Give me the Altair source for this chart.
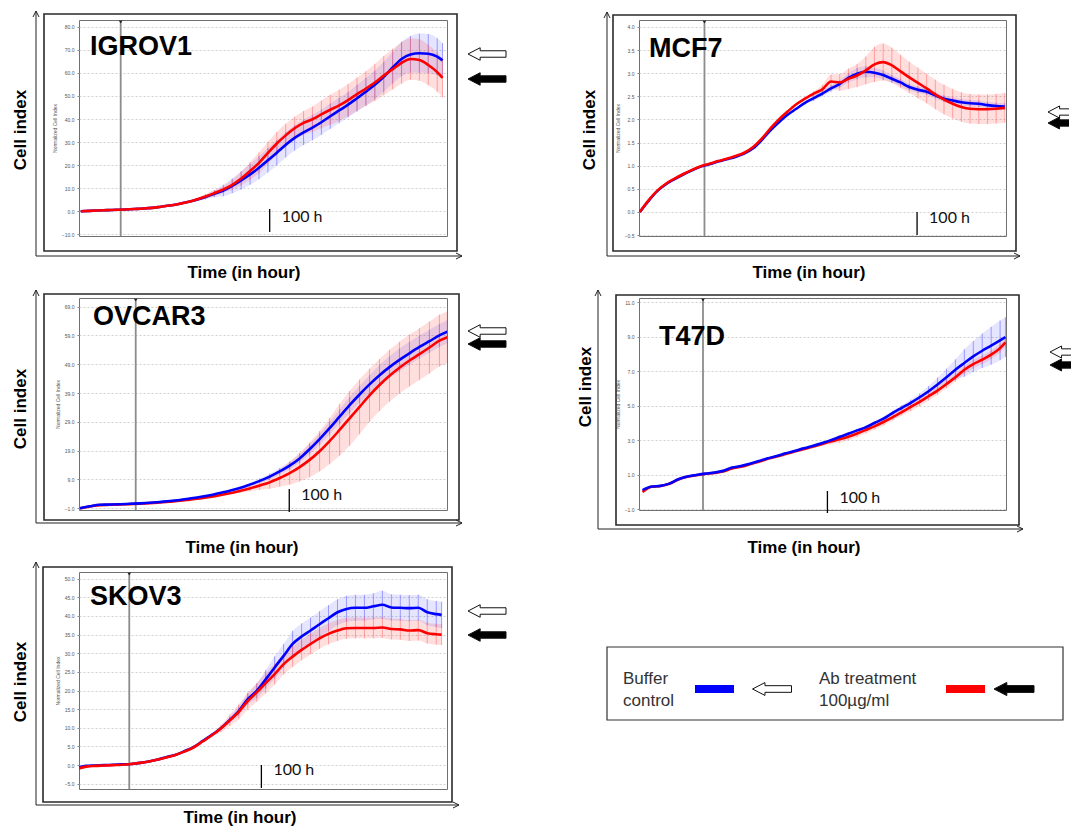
import altair as alt
import pandas as pd

FONT = "Liberation Sans"
BLUE = "#0000ff"
RED = "#ff0000"
BLUE_BAR = "#5a5aff"
RED_BAR = "#ff6a6a"

# ---------------- IGROV1 ----------------
IGROV1_HOURS = [0, 5, 10, 15, 20, 25, 30, 35, 40, 45, 50, 55, 60, 65, 70, 75, 80, 85, 90, 95, 100,
                105, 110, 115, 120, 125, 130, 135, 140, 145, 150, 155, 160, 165, 170, 175, 180, 185,
                190, 195, 200, 203]
IGROV1_BUFFER = [0.0, 0.2, 0.35, 0.5, 0.65, 0.8, 1.0, 1.2, 1.5, 2.0, 2.5, 3.2, 4.0, 5.0, 6.2, 7.6, 9.0,
                 11.0, 13.4, 16.0, 18.9, 22.1, 25.4, 28.8, 31.8, 34.2, 36.3, 38.6, 41.2, 43.7, 46.2,
                 49.0, 51.8, 54.8, 58.3, 62.3, 66.0, 68.0, 68.5, 68.3, 67.0, 65.4]
IGROV1_BUFFER_SD = [0.3, 0.3, 0.3, 0.3, 0.3, 0.3, 0.3, 0.3, 0.3, 0.3, 0.3, 0.3, 0.3, 0.6, 1.0, 1.5, 2.5,
                    3.2, 4.0, 4.5, 5.0, 5.3, 5.5, 5.5, 5.5, 5.5, 5.5, 5.5, 5.5, 5.5, 5.5, 5.8, 6.0, 6.2,
                    6.5, 7.0, 7.5, 8.0, 8.5, 8.5, 8.0, 7.5]
IGROV1_AB = [0.0, 0.2, 0.35, 0.5, 0.65, 0.8, 1.0, 1.2, 1.5, 2.0, 2.5, 3.2, 4.0, 5.1, 6.4, 7.9, 9.5, 11.5,
             14.2, 17.5, 21.0, 25.3, 29.4, 32.9, 36.0, 38.3, 39.9, 42.0, 44.0, 45.9, 48.2, 50.8, 53.2,
             55.8, 58.8, 61.6, 64.3, 66.0, 65.6, 63.4, 60.3, 57.8]
IGROV1_AB_SD = [0.3, 0.3, 0.3, 0.3, 0.3, 0.3, 0.3, 0.3, 0.3, 0.3, 0.3, 0.3, 0.3, 0.6, 1.0, 1.3, 1.5, 2.2,
                3.0, 3.8, 4.5, 4.8, 5.0, 5.0, 5.0, 5.2, 5.5, 6.0, 6.5, 6.8, 7.0, 7.2, 7.5, 8.0, 8.5, 8.8,
                9.0, 9.0, 9.0, 8.8, 8.5, 8.5]
IGROV1_X_TICKS = [0, 29, 58, 87, 116, 145, 174, 203]
IGROV1_Y_TICKS = [-10, 0, 10, 20, 30, 40, 50, 60, 70, 80]

# ---------------- MCF7 ----------------
MCF7_HOURS = [0, 3, 6, 9, 12, 15, 18, 21, 24, 27, 30, 33, 36, 39, 42, 45, 48, 51, 54, 57, 60, 63, 66,
              69, 72, 75, 78, 81, 84, 87, 90, 93, 96, 99, 102, 105, 108, 111, 114, 117, 120, 123, 126]
MCF7_BUFFER = [0.0, 0.24, 0.45, 0.60, 0.71, 0.81, 0.90, 0.98, 1.03, 1.09, 1.14, 1.19, 1.26, 1.37, 1.55,
               1.76, 1.94, 2.10, 2.23, 2.36, 2.46, 2.56, 2.67, 2.77, 2.90, 2.99, 3.03, 3.01, 2.96, 2.88,
               2.80, 2.70, 2.64, 2.60, 2.52, 2.45, 2.41, 2.37, 2.35, 2.34, 2.31, 2.29, 2.28]
MCF7_BUFFER_SD = [0.02, 0.02, 0.02, 0.02, 0.02, 0.02, 0.02, 0.02, 0.02, 0.02, 0.02, 0.02, 0.02, 0.02,
                  0.02, 0.02, 0.02, 0.02, 0.02, 0.02, 0.06, 0.06, 0.07, 0.08, 0.1, 0.12, 0.12, 0.1, 0.1,
                  0.08, 0.08, 0.07, 0.07, 0.07, 0.07, 0.07, 0.07, 0.07, 0.07, 0.07, 0.07, 0.07, 0.07]
MCF7_AB = [0.0, 0.25, 0.46, 0.61, 0.72, 0.82, 0.91, 0.99, 1.04, 1.10, 1.15, 1.21, 1.28, 1.40, 1.58, 1.80,
           2.00, 2.17, 2.33, 2.45, 2.56, 2.65, 2.82, 2.80, 2.88, 2.95, 3.06, 3.19, 3.24, 3.17, 3.04, 2.91,
           2.79, 2.67, 2.54, 2.43, 2.34, 2.27, 2.23, 2.22, 2.22, 2.23, 2.25]
MCF7_AB_SD = [0.02, 0.02, 0.02, 0.02, 0.02, 0.02, 0.02, 0.02, 0.02, 0.02, 0.02, 0.02, 0.02, 0.02, 0.02,
              0.02, 0.02, 0.02, 0.02, 0.02, 0.05, 0.1, 0.15, 0.18, 0.22, 0.25, 0.3, 0.38, 0.4, 0.38, 0.36,
              0.34, 0.33, 0.32, 0.32, 0.32, 0.32, 0.32, 0.32, 0.32, 0.32, 0.32, 0.32]
MCF7_X_TICKS = [0, 21, 42, 63, 84, 105, 126]
MCF7_Y_TICKS = [-0.5, 0, 0.5, 1, 1.5, 2, 2.5, 3, 3.5, 4]

# ---------------- OVCAR3 ----------------
OVCAR3_HOURS = [0, 5, 10, 15, 20, 25, 30, 35, 40, 45, 50, 55, 60, 65, 70, 75, 80, 85, 90, 95, 100, 105,
                110, 115, 120, 125, 130, 135, 140, 145, 150, 155, 160, 165, 170, 175, 180, 184]
OVCAR3_BUFFER = [-1.0, -0.3, 0.2, 0.3, 0.4, 0.55, 0.7, 0.9, 1.2, 1.5, 1.9, 2.4, 2.9, 3.5, 4.3, 5.1, 6.0,
                 7.2, 8.5, 10.0, 11.8, 13.8, 16.3, 19.5, 23.0, 26.8, 30.8, 34.8, 38.5, 42.0, 45.2, 48.0,
                 50.5, 52.8, 55.0, 57.0, 59.0, 60.3]
OVCAR3_BUFFER_SD = [0.3, 0.3, 0.3, 0.3, 0.3, 0.3, 0.3, 0.3, 0.3, 0.3, 0.3, 0.3, 0.3, 0.3, 0.3, 0.3, 0.4,
                    0.6, 0.8, 1.0, 1.2, 1.3, 1.5, 1.8, 2.0, 2.2, 2.5, 2.8, 3.0, 3.2, 3.5, 3.8, 4.0, 4.0,
                    4.0, 4.0, 4.0, 4.0]
OVCAR3_AB = [-1.0, -0.4, 0.1, 0.2, 0.3, 0.45, 0.6, 0.8, 1.0, 1.3, 1.6, 2.0, 2.4, 2.9, 3.5, 4.2, 5.0, 5.9,
             6.9, 8.0, 9.5, 11.2, 13.3, 15.8, 18.8, 22.3, 26.2, 30.2, 34.2, 38.2, 41.8, 45.0, 47.8, 50.3,
             52.5, 54.8, 57.2, 58.4]
OVCAR3_AB_SD = [0.3, 0.3, 0.3, 0.3, 0.3, 0.3, 0.3, 0.3, 0.3, 0.3, 0.3, 0.3, 0.3, 0.3, 0.3, 0.3, 0.6, 1.0,
                1.5, 2.2, 3.0, 4.0, 5.0, 6.0, 7.0, 8.0, 9.0, 9.5, 9.5, 9.2, 9.0, 9.0, 9.0, 9.0, 9.0, 9.0,
                9.0, 9.0]
OVCAR3_X_TICKS = [0, 23, 46, 69, 92, 115, 138, 161, 184]
OVCAR3_Y_TICKS = [-1, 9, 19, 29, 39, 49, 59, 69]

# ---------------- T47D ----------------
T47D_HOURS = [0, 5, 10, 15, 20, 25, 30, 35, 40, 45, 50, 55, 60, 65, 70, 75, 80, 85, 90, 95, 100, 105,
              110, 115, 120, 125, 130, 135, 140, 145, 150, 155, 160, 165, 170, 175, 180, 185, 190, 195,
              200, 203]
T47D_BUFFER = [0.1, 0.31, 0.35, 0.48, 0.73, 0.89, 0.98, 1.06, 1.12, 1.22, 1.41, 1.50, 1.64, 1.79, 1.95,
               2.08, 2.24, 2.37, 2.53, 2.66, 2.82, 2.99, 3.18, 3.37, 3.57, 3.76, 4.01, 4.26, 4.59, 4.88,
               5.17, 5.49, 5.84, 6.23, 6.65, 7.09, 7.48, 7.86, 8.19, 8.48, 8.79, 8.98]
T47D_BUFFER_SD = [0.03, 0.03, 0.03, 0.03, 0.03, 0.03, 0.03, 0.03, 0.03, 0.03, 0.03, 0.03, 0.03, 0.03,
                  0.03, 0.03, 0.03, 0.03, 0.03, 0.03, 0.03, 0.06, 0.08, 0.08, 0.08, 0.08, 0.1, 0.1, 0.12,
                  0.15, 0.18, 0.22, 0.3, 0.4, 0.5, 0.6, 0.8, 0.9, 1.0, 1.1, 1.15, 1.15]
T47D_AB = [0.0, 0.30, 0.34, 0.47, 0.72, 0.88, 0.97, 1.04, 1.10, 1.18, 1.36, 1.46, 1.60, 1.75, 1.92, 2.05,
           2.20, 2.34, 2.48, 2.62, 2.76, 2.92, 3.05, 3.20, 3.39, 3.60, 3.82, 4.07, 4.34, 4.63, 4.93, 5.22,
           5.55, 5.88, 6.26, 6.65, 7.09, 7.42, 7.67, 7.96, 8.34, 8.67]
T47D_AB_SD = [0.03, 0.03, 0.03, 0.03, 0.03, 0.03, 0.03, 0.03, 0.03, 0.03, 0.03, 0.03, 0.03, 0.03, 0.03,
              0.03, 0.03, 0.03, 0.03, 0.03, 0.1, 0.15, 0.2, 0.2, 0.2, 0.2, 0.2, 0.2, 0.2, 0.2, 0.25, 0.25,
              0.25, 0.25, 0.25, 0.25, 0.25, 0.25, 0.25, 0.25, 0.25, 0.25]
T47D_X_TICKS = [0, 29, 58, 87, 116, 145, 174, 203]
T47D_Y_TICKS = [-1, 1, 3, 5, 7, 9, 11]

# ---------------- SKOV3 ----------------
SKOV3_HOURS = [0, 5, 10, 15, 20, 25, 30, 35, 40, 45, 50, 55, 60, 65, 70, 75, 80, 85, 90, 95, 100, 105,
               110, 115, 120, 125, 130, 135, 140, 145, 150, 155, 160, 165, 170, 175, 180, 185, 190, 195,
               200, 203]
SKOV3_BUFFER = [-0.7, -0.2, -0.1, 0.0, 0.1, 0.2, 0.3, 0.6, 1.0, 1.5, 2.2, 2.8, 3.8, 4.9, 6.5, 8.1, 9.9,
                12.1, 14.5, 17.7, 19.9, 23.0, 26.2, 29.3, 32.5, 34.5, 36.1, 37.8, 39.4, 41.0, 41.9, 42.2,
                42.2, 42.6, 43.0, 42.3, 42.2, 42.1, 42.2, 41.0, 40.5, 40.3]
SKOV3_BUFFER_SD = [0.3, 0.3, 0.3, 0.3, 0.3, 0.3, 0.3, 0.3, 0.3, 0.3, 0.3, 0.3, 0.3, 0.3, 0.3, 0.3, 0.3,
                   0.8, 1.2, 1.5, 2.0, 2.5, 3.0, 3.2, 3.5, 3.5, 3.5, 3.5, 3.5, 3.5, 3.5, 3.5, 3.5, 3.5,
                   3.8, 3.5, 3.5, 3.5, 3.5, 3.5, 3.5, 3.5]
SKOV3_AB = [-1.0, -0.4, -0.2, -0.1, 0.0, 0.1, 0.3, 0.6, 1.0, 1.5, 2.1, 2.8, 3.7, 4.8, 6.4, 8.0, 9.8, 12.0,
            14.3, 17.2, 19.5, 22.0, 24.4, 27.1, 29.1, 30.9, 32.5, 34.0, 35.2, 36.1, 36.7, 36.8, 36.8,
            36.8, 36.9, 36.5, 36.4, 36.1, 36.2, 35.4, 35.1, 35.0]
SKOV3_AB_SD = [0.3, 0.3, 0.3, 0.3, 0.3, 0.3, 0.3, 0.3, 0.3, 0.3, 0.3, 0.3, 0.3, 0.3, 0.3, 0.3, 1.0, 1.5,
               2.0, 2.3, 2.5, 2.8, 2.8, 2.8, 2.8, 2.8, 2.8, 2.8, 2.8, 2.8, 2.8, 2.8, 2.8, 2.8, 2.8, 2.8,
               2.8, 2.8, 2.8, 2.8, 2.8, 2.8]
SKOV3_X_TICKS = [0, 29, 58, 87, 116, 145, 174, 203]
SKOV3_Y_TICKS = [-5, 0, 5, 10, 15, 20, 25, 30, 35, 40, 45, 50]

# hour at which the treatment (grey line) and the "100 h" annotation sit
TREATMENT_HOUR = {"IGROV1": 22.4, "MCF7": 22.3, "OVCAR3": 27.9, "T47D": 33.8, "SKOV3": 29.0}
MARK_HOUR = {"IGROV1": 106.0, "MCF7": 95.7, "OVCAR3": 104.8, "T47D": 103.4, "SKOV3": 102.6}

LEGEND_LABELS = ["Buffer\ncontrol", "Ab treatment\n100\u00b5g/ml"]

ARROW = "M -1 0 L -0.36 -0.33 L -0.36 -0.17 L 1 -0.17 L 1 0.17 L -0.36 0.17 L -0.36 0.33 Z"
# arrow whose tail runs off the page edge (open on the right, like the cropped original)
ARROW_CUT = "M 1 -0.3 L 0.1 -0.3 L 0.1 -0.57 L -1 0 L 0.1 0.57 L 0.1 0.3 L 1 0.3"
CHEV_UP = "M -1 1 L 0 -1 L 1 1"
CHEV_RIGHT = "M -1 -1 L 1 0 L -1 1"

ONE = pd.DataFrame({"k": [0]})

LEFT_W = 368
RIGHT_W = 367

PANELS = [
    dict(name="IGROV1", t=IGROV1_HOURS, buf=IGROV1_BUFFER, buf_sd=IGROV1_BUFFER_SD, ab=IGROV1_AB,
         ab_sd=IGROV1_AB_SD, xt=IGROV1_X_TICKS, yt=IGROV1_Y_TICKS, xdom=[-1, 205.5], ydom=[-10.7, 82.9],
         origin=(78, 18), size=(LEFT_W, 216), frame=(43, 12, 456, 249), lax=(35, 9, 254, 461),
         cell=(20, 128), time=(243, 271), title=(89, 53), mark=(207, 230, 220),
         arrows=(486, 52, 77), cut=False, red_top=True),
    dict(name="MCF7", t=MCF7_HOURS, buf=MCF7_BUFFER, buf_sd=MCF7_BUFFER_SD, ab=MCF7_AB,
         ab_sd=MCF7_AB_SD, xt=MCF7_X_TICKS, yt=MCF7_Y_TICKS, xdom=[-0.3, 126.4], ydom=[-0.52, 4.15],
         origin=(638, 18), size=(RIGHT_W, 216), frame=(612, 13, 1015, 249), lax=(606, 10, 254, 1019),
         cell=(589, 128), time=(808, 271), title=(648, 55), mark=(210, 233, 221),
         arrows=(1057.5, 110, 121), cut=True, red_top=True),
    dict(name="OVCAR3", t=OVCAR3_HOURS, buf=OVCAR3_BUFFER, buf_sd=OVCAR3_BUFFER_SD, ab=OVCAR3_AB,
         ab_sd=OVCAR3_AB_SD, xt=OVCAR3_X_TICKS, yt=OVCAR3_Y_TICKS, xdom=[-0.5, 183.8], ydom=[-1.6, 72],
         origin=(78, 296), size=(LEFT_W, 212), frame=(43, 292, 458, 518), lax=(35, 288, 521, 461),
         cell=(20, 407), time=(241, 546), title=(92, 323), mark=(487, 510, 498),
         arrows=(486, 329, 342), cut=False, red_top=False),
    dict(name="T47D", t=T47D_HOURS, buf=T47D_BUFFER, buf_sd=T47D_BUFFER_SD, ab=T47D_AB,
         ab_sd=T47D_AB_SD, xt=T47D_X_TICKS, yt=T47D_Y_TICKS, xdom=[-2.0, 203.3], ydom=[-1.05, 11.25],
         origin=(638, 296), size=(RIGHT_W, 212), frame=(615, 293, 1018, 523), lax=(597, 288, 527, 1022),
         cell=(585, 385), time=(803, 546), title=(658, 343), mark=(489, 511, 501),
         arrows=(1059.5, 350, 363), cut=True, red_top=False),
    dict(name="SKOV3", t=SKOV3_HOURS, buf=SKOV3_BUFFER, buf_sd=SKOV3_BUFFER_SD, ab=SKOV3_AB,
         ab_sd=SKOV3_AB_SD, xt=SKOV3_X_TICKS, yt=SKOV3_Y_TICKS, xdom=[1.0, 206.0], ydom=[-6.4, 51.8],
         origin=(78, 570), size=(LEFT_W, 217), frame=(42, 565, 451, 800), lax=(35, 560, 803, 458),
         cell=(20, 680), time=(239, 816), title=(89, 603), mark=(763, 786, 773),
         arrows=(486, 609, 633), cut=False, red_top=True),
]


def series_df(t, v, sd):
    return pd.DataFrame({"t": t, "v": v,
                         "lo": [a - b for a, b in zip(v, sd)],
                         "hi": [a + b for a, b in zip(v, sd)]})


def arrow_mark(x, y, fill, size=38, shape=ARROW):
    return alt.Chart(ONE).mark_point(shape=shape, size=size * size, filled=True, fill=fill,
                                      stroke="#111111", strokeWidth=1, opacity=1).encode(
        x=alt.value(x), y=alt.value(y))


def panel(p, anchor=False):
    ox, oy = p["origin"]
    W, H = p["size"]

    def X(v):
        return v - ox

    def Y(v):
        return v - oy

    xs = alt.Scale(domain=p["xdom"], nice=False, zero=False)
    ys = alt.Scale(domain=p["ydom"], nice=False, zero=False)
    xax = alt.Axis(values=p["xt"], format=".1f", title=None, labelFontSize=5, labelColor="#555555",
                   labelFont=FONT, grid=True, gridColor="#c4c4c4", gridDash=[2, 2], gridWidth=0.8,
                   domain=False, tickSize=2, tickColor="#888888", labelPadding=4, labelFlush=False,
                   labelOverlap=False)
    yax = alt.Axis(values=p["yt"], format=".1f", title="Normalized Cell Index", titleFontSize=5,
                   titleFontWeight="normal", titleColor="#555555", titleFont=FONT, titlePadding=4,
                   labelFontSize=5, labelColor="#555555", labelFont=FONT, grid=True,
                   gridColor="#c4c4c4", gridDash=[2, 2], gridWidth=0.8, domain=False, tickSize=2,
                   tickColor="#888888", labelPadding=3, labelFlush=False, labelOverlap=False)
    xenc = alt.X("t:Q", scale=xs, axis=xax)
    buf = series_df(p["t"], p["buf"], p["buf_sd"])
    ab = series_df(p["t"], p["ab"], p["ab_sd"])

    def band(df, color, op):
        return alt.Chart(df).mark_area(color=color, opacity=op, clip=True,
                                       interpolate="monotone").encode(
            x=xenc, y=alt.Y("lo:Q", scale=ys, axis=yax), y2="hi:Q")

    def bars(df, color):
        return alt.Chart(df).mark_rule(color=color, strokeWidth=1, opacity=0.55, clip=True).encode(
            x=xenc, y=alt.Y("lo:Q", scale=ys, axis=yax), y2="hi:Q")

    def line(df, color):
        return alt.Chart(df).mark_line(color=color, strokeWidth=2.6, interpolate="monotone",
                                       clip=True).encode(
            x=xenc, y=alt.Y("v:Q", scale=ys, axis=yax))

    layers = []
    treat = pd.DataFrame({"t": [TREATMENT_HOUR[p["name"]]]})
    xplain = alt.X("t:Q", scale=xs, axis=None)
    layers += [band(buf, BLUE, 0.10), band(ab, RED, 0.13)]
    layers.append(alt.Chart(treat).mark_rule(color="#8c8c8c", strokeWidth=1.8).encode(
        x=xplain, y=alt.value(0), y2=alt.value(H)))
    layers.append(alt.Chart(treat).mark_point(shape="triangle-down", filled=True, color="#222222",
                                              size=14, opacity=1).encode(x=xplain, y=alt.value(2)))
    layers += [bars(buf, BLUE_BAR), bars(ab, RED_BAR)]
    if p["red_top"]:
        layers += [line(buf, BLUE), line(ab, RED)]
    else:
        layers += [line(ab, RED), line(buf, BLUE)]

    # "100 h" annotation
    mk = pd.DataFrame({"t": [MARK_HOUR[p["name"]]]})
    m0, m1, mb = p["mark"]
    layers.append(alt.Chart(mk).mark_rule(color="#000000", strokeWidth=1.3).encode(
        x=xplain, y=alt.value(Y(m0)), y2=alt.value(Y(m1))))
    layers.append(alt.Chart(mk).mark_text(text="100 h", font="Lato", fontSize=16, align="left",
                                          baseline="alphabetic", dx=12, color="#111111").encode(
        x=xplain, y=alt.value(Y(mb))))

    # screenshot frame
    fx0, fy0, fx1, fy1 = p["frame"]
    layers.append(alt.Chart(ONE).mark_rect(filled=False, color="#2a2a2a", strokeWidth=1.6).encode(
        x=alt.value(X(fx0)), x2=alt.value(X(fx1)), y=alt.value(Y(fy0)), y2=alt.value(Y(fy1))))
    # outer L-shaped axes with arrow heads
    lx, ly0, ly1, lx1 = p["lax"]
    layers.append(alt.Chart(ONE).mark_rule(color="#222222", strokeWidth=1).encode(
        x=alt.value(X(lx)), y=alt.value(Y(ly0)), y2=alt.value(Y(ly1))))
    layers.append(alt.Chart(ONE).mark_rule(color="#222222", strokeWidth=1).encode(
        x=alt.value(X(lx)), x2=alt.value(X(lx1)), y=alt.value(Y(ly1))))
    layers.append(alt.Chart(ONE).mark_point(shape=CHEV_UP, filled=False, color="#222222", size=36,
                                            strokeWidth=1, opacity=1).encode(
        x=alt.value(X(lx)), y=alt.value(Y(ly0) + 3)))
    layers.append(alt.Chart(ONE).mark_point(shape=CHEV_RIGHT, filled=False, color="#222222", size=36,
                                            strokeWidth=1, opacity=1).encode(
        x=alt.value(X(lx1) - 3), y=alt.value(Y(ly1))))
    # labels
    cx, cy = p["cell"]
    layers.append(alt.Chart(ONE).mark_text(text="Cell index", font=FONT, fontSize=17,
                                           fontWeight="bold", angle=270, align="center",
                                           baseline="middle", color="#000000").encode(
        x=alt.value(X(cx)), y=alt.value(Y(cy))))
    tx, ty = p["time"]
    layers.append(alt.Chart(ONE).mark_text(text="Time (in hour)", font=FONT, fontSize=17,
                                           fontWeight="bold", align="center", baseline="middle",
                                           color="#000000").encode(
        x=alt.value(X(tx)), y=alt.value(Y(ty))))
    nx, ny = p["title"]
    layers.append(alt.Chart(ONE).mark_text(text=p["name"], font=FONT, fontSize=27, fontWeight="bold",
                                           align="left", baseline="alphabetic",
                                           color="#000000").encode(
        x=alt.value(X(nx)), y=alt.value(Y(ny))))
    ax, ay_buf, ay_ab = p["arrows"]
    if p["cut"]:
        layers.append(arrow_mark(X(ax), Y(ay_buf), "#ffffff", 21, ARROW_CUT))
        layers.append(arrow_mark(X(ax), Y(ay_ab), "#000000", 21, ARROW_CUT))
    else:
        layers.append(arrow_mark(X(ax), Y(ay_buf), "#ffffff"))
        layers.append(arrow_mark(X(ax), Y(ay_ab), "#000000"))
    if anchor:
        layers.append(alt.Chart(ONE).mark_rect(color="#ffffff", opacity=0).encode(
            x=alt.value(X(8)), x2=alt.value(X(9)), y=alt.value(Y(8)), y2=alt.value(Y(9))))
    return alt.layer(*layers).properties(width=W, height=H)


def legend_panel():
    ox, oy = 638, 570
    W, H = RIGHT_W, 217

    def X(v):
        return v - ox

    def Y(v):
        return v - oy

    layers = []
    layers.append(alt.Chart(ONE).mark_rect(filled=False, color="#333333", strokeWidth=1.2).encode(
        x=alt.value(X(606)), x2=alt.value(X(1062)), y=alt.value(Y(645)), y2=alt.value(Y(718))))
    lab = pd.DataFrame({"label": LEGEND_LABELS, "px": [X(622), X(818)]})
    layers.append(alt.Chart(lab).mark_text(font=FONT, fontSize=17, align="left", baseline="alphabetic",
                                           lineBreak="\n", lineHeight=22, color="#333333").encode(
        x=alt.X("px:Q", scale=None), y=alt.value(Y(682)), text="label:N"))
    layers.append(alt.Chart(ONE).mark_rect(color=BLUE).encode(
        x=alt.value(X(694)), x2=alt.value(X(733)), y=alt.value(Y(683)), y2=alt.value(Y(691))))
    layers.append(alt.Chart(ONE).mark_rect(color=RED).encode(
        x=alt.value(X(945)), x2=alt.value(X(984)), y=alt.value(Y(683)), y2=alt.value(Y(691))))
    layers.append(arrow_mark(X(771), Y(687), "#ffffff", 39))
    layers.append(arrow_mark(X(1013), Y(687), "#000000", 40))
    return alt.layer(*layers).properties(width=W, height=H,
                                         view=alt.ViewBackground(stroke="transparent"))


charts = [panel(PANELS[0], anchor=True), panel(PANELS[1]), panel(PANELS[2]), panel(PANELS[3]),
          panel(PANELS[4]), legend_panel()]

chart = alt.concat(*charts, columns=2, spacing={"row": 62, "column": 638 - 78 - LEFT_W},
                   bounds="flush", align="each").properties(padding=0).configure_view(
    stroke="#707070", strokeWidth=1)

chart.save("out.html", embed_options={"renderer": "svg", "actions": False})
